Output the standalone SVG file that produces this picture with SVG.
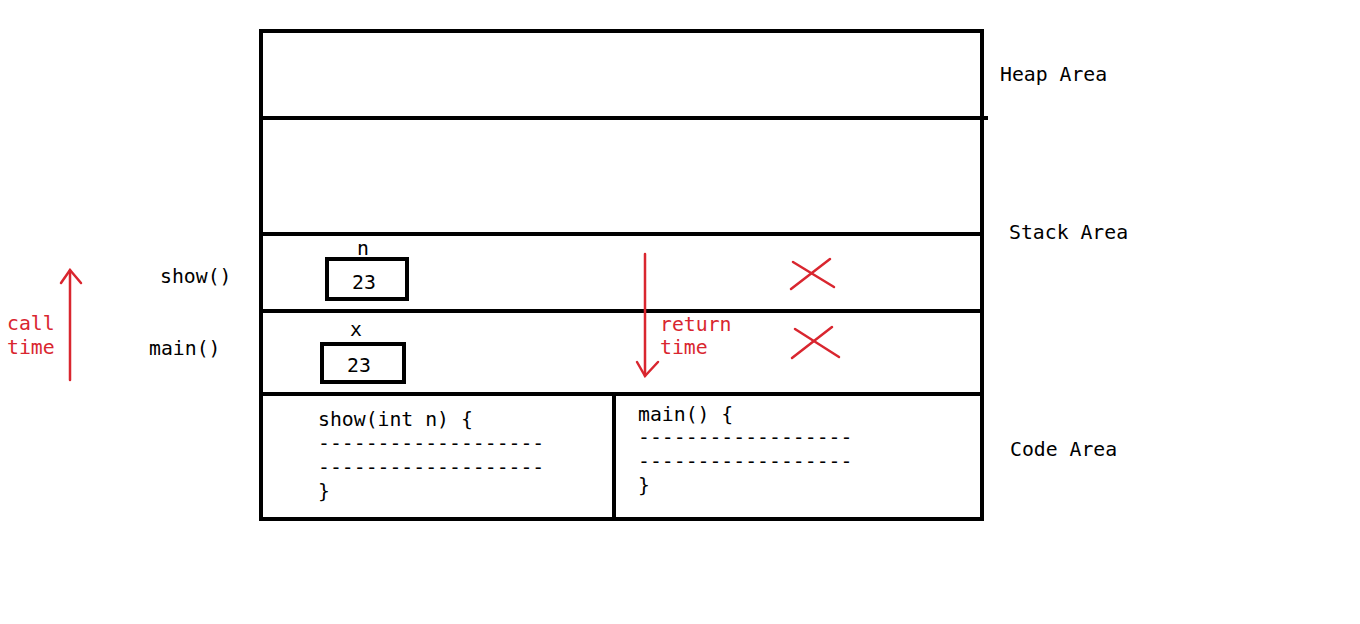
<svg xmlns="http://www.w3.org/2000/svg" width="1360" height="624" viewBox="0 0 1360 624">
<style>
text{font-family:"DejaVu Sans Mono","Liberation Mono",monospace;font-size:19.8px;fill:#000}
.red{fill:#d9262f}
.box{fill:none;stroke:#000;stroke-width:4}
.rl{fill:none;stroke:#d9262f;stroke-width:2.5;stroke-linecap:round}
</style>
<rect width="1360" height="624" fill="#fff"/>
<g id="memory">
<rect class="box" x="261" y="31" width="721" height="488"/>
<line class="box" x1="261" y1="118" x2="988" y2="118"/>
<line class="box" x1="261" y1="234" x2="982" y2="234"/>
<line class="box" x1="261" y1="311" x2="982" y2="311"/>
<line class="box" x1="261" y1="394" x2="982" y2="394"/>
<line class="box" x1="614" y1="394" x2="614" y2="519"/>
</g>
<g id="labels">
<text x="1000" y="81">Heap Area</text>
<text x="1009" y="239">Stack Area</text>
<text x="1010" y="456">Code Area</text>
<text x="160" y="283">show()</text>
<text x="149" y="355">main()</text>
</g>
<g id="show-frame">
<text x="357" y="255">n</text>
<rect class="box" x="327" y="259" width="80" height="40"/>
<text x="352" y="289">23</text>
</g>
<g id="main-frame">
<text x="350" y="336">x</text>
<rect class="box" x="322" y="344" width="82" height="38"/>
<text x="347" y="372">23</text>
</g>
<g id="code-show">
<text x="318" y="426">show(int n) {</text>
<text x="318" y="450">-------------------</text>
<text x="318" y="474">-------------------</text>
<text x="318" y="498">}</text>
</g>
<g id="code-main">
<text x="638" y="421">main() {</text>
<text x="638" y="444">------------------</text>
<text x="638" y="468">------------------</text>
<text x="638" y="492">}</text>
</g>
<g id="connectors">
<line class="rl" x1="70" y1="380" x2="70" y2="270"/>
<polyline class="rl" points="61,283 70,270 81,283"/>
<text class="red" x="7" y="330">call</text>
<text class="red" x="7" y="354">time</text>
<line class="rl" x1="645" y1="254" x2="645" y2="376"/>
<polyline class="rl" points="637,362 645,376 658,362"/>
<text class="red" x="660" y="331">return</text>
<text class="red" x="660" y="354">time</text>
<line class="rl" x1="791" y1="289" x2="830" y2="259"/>
<line class="rl" x1="793" y1="262" x2="834" y2="287"/>
<line class="rl" x1="792" y1="358" x2="832" y2="327"/>
<line class="rl" x1="795" y1="329" x2="839" y2="357"/>
</g>
</svg>
